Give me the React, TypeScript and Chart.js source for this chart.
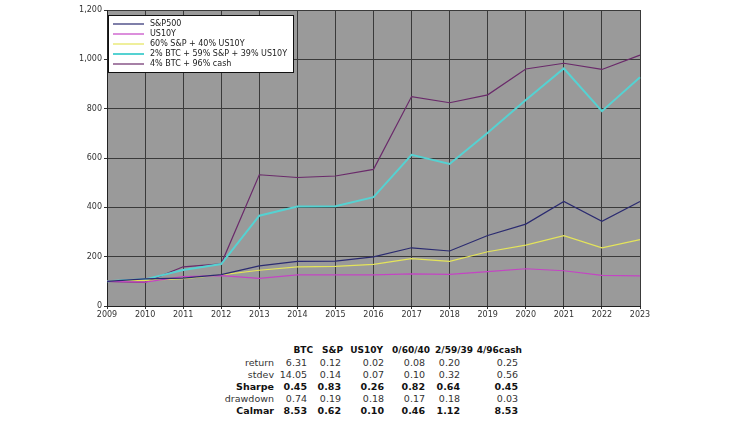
import React, { useEffect, useRef } from "react";
import { Chart, registerables } from "chart.js";

Chart.register(...registerables);

const years = ["2009","2010","2011","2012","2013","2014","2015","2016","2017","2018","2019","2020","2021","2022","2023"];
const sp500 = [100, 110, 113, 127, 163, 181, 182, 199, 236, 223, 286, 332, 424, 343, 424];
const us10y = [100, 97, 119, 123, 112, 126, 126, 126, 130, 128, 139, 151, 143, 124, 122];
const mix6040 = [100, 104, 111, 126, 145, 159, 161, 169, 192, 181, 220, 247, 285, 236, 269];
const mix25939 = [100, 108, 146, 170, 366, 403, 404, 441, 613, 576, 702, 835, 963, 790, 927];
const mix496 = [100, 96, 159, 171, 532, 521, 527, 554, 849, 824, 856, 961, 984, 959, 1017];
const seriesNames = ["S&P500", "US10Y", "60% S&P + 40% US10Y", "2% BTC + 59% S&P + 39% US10Y", "4% BTC + 96% cash"];

const tableCols = ["BTC", "S&P", "US10Y", "0/60/40", "2/59/39", "4/96cash"];
const tableRows = ["return", "stdev", "Sharpe", "drawdown", "Calmar"];
const boldRows = ["Sharpe", "Calmar"];
const tableValues = [
  ["6.31", "0.12", "0.02", "0.08", "0.20", "0.25"],
  ["14.05", "0.14", "0.07", "0.10", "0.32", "0.56"],
  ["0.45", "0.83", "0.26", "0.82", "0.64", "0.45"],
  ["0.74", "0.19", "0.18", "0.17", "0.18", "0.03"],
  ["8.53", "0.62", "0.10", "0.46", "1.12", "8.53"],
];

const colors = ["#2b2b70", "#c444c4", "#e4e45a", "#55d2d2", "#6a2a6a"];
const widths = [1.2, 1.2, 1.2, 2, 1.2];

const FONT = "'DejaVu Sans', sans-serif";

const bgPlugin = {
  id: "plotBg",
  beforeDraw(chart: any) {
    const { ctx, chartArea } = chart;
    ctx.save();
    ctx.fillStyle = "#9a9a9a";
    ctx.fillRect(chartArea.left, chartArea.top, chartArea.right - chartArea.left, chartArea.bottom - chartArea.top);
    ctx.restore();
  },
};

const legendPlugin = {
  id: "boxLegend",
  afterDatasetsDraw(chart: any) {
    const { ctx, chartArea } = chart;
    const x0 = chartArea.left + 1;
    const y0 = 15;
    const w = 185;
    const h = 57;
    ctx.save();
    ctx.fillStyle = "#ffffff";
    ctx.fillRect(x0, y0, w, h);
    ctx.strokeStyle = "#111";
    ctx.lineWidth = 1;
    ctx.strokeRect(x0 + 0.5, y0 + 0.5, w, h);
    ctx.font = `8px ${FONT}`;
    ctx.textBaseline = "middle";
    chart.data.datasets.forEach((ds: any, i: number) => {
      const y = y0 + 9 + i * 10;
      ctx.strokeStyle = ds.borderColor;
      ctx.lineWidth = ds.borderWidth;
      ctx.beginPath();
      ctx.moveTo(x0 + 5, y);
      ctx.lineTo(x0 + 36, y);
      ctx.stroke();
      ctx.fillStyle = "#222";
      ctx.fillText(ds.label, x0 + 42, y);
    });
    ctx.restore();
  },
};

export default function App() {
  const ref = useRef<HTMLCanvasElement>(null);
  useEffect(() => {
    if (!ref.current) return;
    const data = [sp500, us10y, mix6040, mix25939, mix496];
    const chart = new Chart(ref.current, {
      type: "line",
      data: {
        labels: years,
        datasets: data.map((d, i) => ({
          label: seriesNames[i],
          data: d,
          borderColor: colors[i],
          backgroundColor: colors[i],
          borderWidth: widths[i],
          pointRadius: 0,
          tension: 0,
        })),
      },
      options: {
        animation: false,
        responsive: false,
        layout: { padding: { left: 0, right: 110, top: 10, bottom: 10 } },
        plugins: { legend: { display: false }, tooltip: { enabled: false } },
        scales: {
          x: {
            type: "category",
            offset: false,
            afterFit: (s: any) => { s.height = 14; },
            grid: { color: "#3a3a3a", lineWidth: 1, drawTicks: true, tickLength: 3, tickColor: "#333" },
            border: { display: true, color: "#222" },
            ticks: { autoSkip: false, maxRotation: 0, color: "#333", font: { family: FONT, size: 8 }, padding: 1 },
          },
          y: {
            min: 0,
            max: 1200,
            afterFit: (s: any) => { s.width = 107; },
            grid: { color: "#3a3a3a", lineWidth: 1, drawTicks: true, tickLength: 3, tickColor: "#333" },
            border: { display: true, color: "#222" },
            ticks: {
              stepSize: 200,
              color: "#333",
              font: { family: FONT, size: 8 },
              padding: 2,
              callback: (v: any) => Number(v).toLocaleString("en-US"),
            },
          },
        },
      },
      plugins: [bgPlugin, legendPlugin],
    } as any);
    return () => chart.destroy();
  }, []);

  const headerRight = [313, 343, 383, 430, 473, 522];
  const valueRight = [307, 341, 384, 425, 460, 518];
  const rowY = [344, 356.5, 368.5, 380.5, 393, 405];
  const labelRight = 274;
  const fs = 9.5;
  const hfs = 9;

  return (
    <div style={{ position: "fixed", left: 0, top: 0, width: 750, height: 422, background: "#fff", fontFamily: FONT, overflow: "hidden" }}>
      <canvas ref={ref} width={750} height={330} style={{ position: "absolute", left: 0, top: 0 }} />
      {tableCols.map((c, j) => (
        <div key={"h" + j} style={{ position: "absolute", top: rowY[0], left: headerRight[j] - 80, width: 80, textAlign: "right", fontSize: hfs, fontWeight: "bold", color: "#111", lineHeight: "12px", whiteSpace: "nowrap" }}>{c}</div>
      ))}
      {tableRows.map((r, i) => {
        const bold = boldRows.includes(r);
        const col = bold ? "#111" : "#333";
        return (
          <React.Fragment key={r}>
            <div style={{ position: "absolute", top: rowY[i + 1], left: labelRight - 80, width: 80, textAlign: "right", fontSize: fs, fontWeight: bold ? "bold" : "normal", color: col, lineHeight: "12px" }}>{r}</div>
            {tableValues[i].map((v, j) => (
              <div key={j} style={{ position: "absolute", top: rowY[i + 1], left: valueRight[j] - 80, width: 80, textAlign: "right", fontSize: fs, fontWeight: bold ? "bold" : "normal", color: col, lineHeight: "12px" }}>{v}</div>
            ))}
          </React.Fragment>
        );
      })}
    </div>
  );
}
